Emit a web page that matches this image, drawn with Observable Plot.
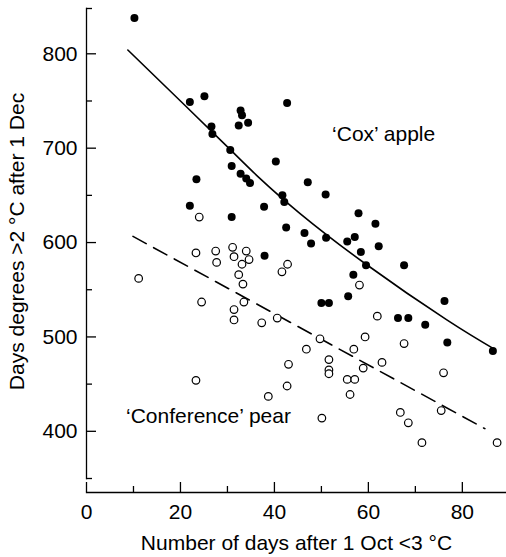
<!DOCTYPE html>
<html><head><meta charset="utf-8">
<script src="https://cdn.jsdelivr.net/npm/d3@7"></script>
<script src="https://cdn.jsdelivr.net/npm/@observablehq/plot@0.6"></script>
<style>body{margin:0;background:#fff}</style>
</head><body><div id="chart"></div>
<script>
// 'Cox' apple (filled dots)
const coxX = [10.2,22.0,25.1,42.7,32.8,33.1,34.4,32.4,26.6,26.8,30.6,40.3,30.9,23.4,32.8,34.0,34.8,41.7,42.1,22.0,37.8,30.9,42.5,47.1,50.9,57.9,61.5,46.4,47.8,51.0,55.5,57.1,62.2,58.4,59.5,67.6,56.8,55.7,50.0,51.6,76.2,66.3,68.5,72.1,76.8,86.5,37.9];
const coxY = [838,749,755,748,740,735,727,724,723,715,698,686,681,667,673,668,663,650,643,639,638,627,616,664,651,631,620,610,599,605,601,606,596,590,576,576,566,543,536,536,538,520,520,513,494,485,586];
// 'Conference' pear (open circles)
const confX = [11.1,23.3,27.5,27.7,31.1,31.4,34.0,34.6,33.1,32.4,33.3,24.5,33.5,31.4,31.4,37.3,40.6,42.8,41.6,43.0,42.7,38.7,23.3,24.0,58.1,61.9,49.7,46.8,59.3,56.9,67.6,51.6,51.6,51.6,58.9,62.9,55.5,57.1,56.1,76.0,66.8,68.5,75.5,50.1,71.4,87.4];
const confY = [562,589,591,579,595,585,591,582,577,566,556,537,537,529,518,515,520,577,569,471,448,437,454,627,555,522,498,487,500,487,493,476,465,461,467,473,455,455,439,462,420,409,422,414,388,388];
// fitted curves
const coxFitX = [8.8,20,30.5,36.9,45.4,59.5,76.7,87];
const coxFitY = [804,750,699,668,631,577,518,486.5];
const confFitX = [9.9,84.8];
const confFitY = [606.5,402.8];
// axes
const xDomain = [0, 89.4];
const yDomain = [350, 848];
const xTicksMajor = [0,20,40,60,80];
const xTicksMinor = [10,30,50,70];
const yTicksMajor = [400,500,600,700,800];
const yTicksMinor = [350,450,550,650,750,848];
const xLabel = "Number of days after 1 Oct <3 °C";
const yLabel = "Days degrees >2 °C after 1 Dec";
const annX = [63.25, 25.96];
const annY = [714.5, 415.7];
const annText = ["‘Cox’ apple", "‘Conference’ pear"];

const zip = (xs, ys) => xs.map((x, i) => ({x, y: ys[i]}));
const cox = zip(coxX, coxY);
const conf = zip(confX, confY);
const coxFit = zip(coxFitX, coxFitY);
const confFit = zip(confFitX, confFitY);
const ann = annText.map((t, i) => ({text: t, x: annX[i], y: annY[i]}));

const chart = Plot.plot({
  width: 506, height: 557,
  marginLeft: 86, marginRight: 0, marginTop: 8, marginBottom: 65,
  style: {fontFamily: "'Liberation Sans', Arial, sans-serif", fontSize: "21px", background: "white", color: "black"},
  x: {domain: xDomain, axis: null},
  y: {domain: yDomain, insetBottom: 14, axis: null},
  marks: [
    Plot.frame({anchor: "left", insetBottom: 14, strokeWidth: 1.3}),
    Plot.frame({anchor: "bottom", strokeWidth: 1.3}),
    Plot.axisY(yTicksMajor, {tickSize: 0, tickPadding: 9, label: null}),
    Plot.axisY(yTicksMajor, {tickSize: -10, fill: "none", label: null, strokeWidth: 1.3}),
    Plot.axisY(yTicksMinor, {tickSize: -6, fill: "none", label: null, strokeWidth: 1.3}),
    Plot.axisX(xTicksMajor, {tickSize: 0, tickPadding: 12, label: null}),
    Plot.axisX(xTicksMajor, {tickSize: -10, fill: "none", label: null, strokeWidth: 1.3}),
    Plot.axisX(xTicksMinor, {tickSize: -6, fill: "none", label: null, strokeWidth: 1.3}),
    Plot.line(coxFit, {x: "x", y: "y", curve: "natural", strokeWidth: 1.6}),
    Plot.line(confFit, {x: "x", y: "y", strokeWidth: 1.6, strokeDasharray: "15,8.5"}),
    Plot.dot(cox, {x: "x", y: "y", r: 4, fill: "black"}),
    Plot.dot(conf, {x: "x", y: "y", r: 3.8, fill: "white", stroke: "black", strokeWidth: 1.2}),
    Plot.text(ann, {x: "x", y: "y", text: "text", fontSize: 21}),
    Plot.text([xLabel], {frameAnchor: "bottom", lineAnchor: "middle", textAnchor: "middle", dy: 50.3, fontSize: 21}),
    Plot.text([yLabel], {frameAnchor: "left", lineAnchor: "middle", textAnchor: "middle", rotate: -90, dx: -69.2, dy: -9, fontSize: 21})
  ]
});
document.getElementById("chart").appendChild(chart);
</script>
</body></html>
